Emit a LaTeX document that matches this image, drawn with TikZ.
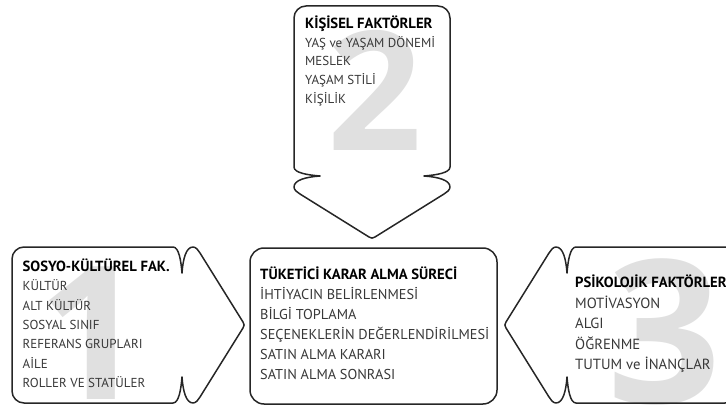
\documentclass[tikz,border=0pt]{standalone}
\usepackage{fontspec}
\setmainfont{PT Sans}
\newfontfamily\numfont{Open Sans}
\usetikzlibrary{positioning}

\newcommand{\boxtitle}[1]{{\fontsize{14.7}{14.7}\selectfont\bfseries\color{black}#1}}

\tikzset{
	boxline/.style={line width=1.5pt, draw=black!85, line join=round},
	factor/.style={anchor=base west, align=left, inner sep=0pt, text=black!78},
	bignum/.style={text=black!12, inner sep=0pt},
	% arrow shaped box, notch at (0,0), pointing to +x
	arrowbox/.pic={
		\draw[boxline] (-170,0) -- (-170,66) arc[start angle=180, end angle=90, radius=12pt] -- (-9,78)
			.. controls (-3,78) and (-1,64) .. (0,52)
			.. controls (1,66) and (4,78) .. (11,78)
			.. controls (14,78) and (16.4,74.6) .. (18,72)
			-- (61,3) .. controls (62.5,1) and (62.5,-1) .. (61,-3)
			-- (18,-72) .. controls (16.4,-74.6) and (14,-78) .. (11,-78)
			.. controls (4,-78) and (1,-66) .. (0,-52)
			.. controls (-1,-64) and (-3,-78) .. (-9,-78)
			-- (-158,-78) arc[start angle=270, end angle=180, radius=12pt] -- cycle;
	}
}

\begin{document}
\begin{tikzpicture}[x=1pt, y=1pt]
	\useasboundingbox (0,0) rectangle (726,408);
	\clip (0,0) rectangle (726,408);
	
	% big numbers in the background
	\node[bignum, font=\fontsize{186}{186}\numfont\bfseries] (num1) at (92,75) {1};
	\node[bignum, font=\fontsize{166}{166}\numfont\bfseries] (num2) at (375,318) {2};
	\node[bignum, font=\fontsize{200}{200}\numfont\bfseries] (num3) at (665,76) {3};
	
	% the boxes
	\pic at (182,83) {arrowbox};
	\pic[rotate=-90] at (372,232) {arrowbox};
	\pic[rotate=180] at (567,83) {arrowbox};
	\draw[boxline, rounded corners=14pt] (250,4) rectangle (497,160);
	
	% texts (base = last line)
	\node[factor, font=\fontsize{13}{19.4}\selectfont] (sosyo) at (22.5,20.3) {%
		\boxtitle{SOSYO-KÜLTÜREL FAK.}\\
		KÜLTÜR\\
		ALT KÜLTÜR\\
		SOSYAL SINIF\\
		REFERANS GRUPLARI\\
		AİLE\\
		ROLLER VE STATÜLER};
	
	\node[factor, font=\fontsize{13}{18.6}\selectfont] (kisisel) at (305,305) {%
		\boxtitle{KİŞİSEL FAKTÖRLER}\\
		YAŞ ve YAŞAM DÖNEMİ\\
		MESLEK\\
		YAŞAM STİLİ\\
		KİŞİLİK};
	
	\node[factor, font=\fontsize{14.3}{20}\selectfont] (surec) at (260,28.4) {%
		\boxtitle{TÜKETİCİ KARAR ALMA SÜRECİ}\\
		İHTİYACIN BELİRLENMESİ\\
		BİLGİ TOPLAMA\\
		SEÇENEKLERİN DEĞERLENDİRİLMESİ\\
		SATIN ALMA KARARI\\
		SATIN ALMA SONRASI};
	
	\node[factor, font=\fontsize{14.7}{20.5}\selectfont] (psiko) at (575,38.4) {%
		\boxtitle{PSİKOLOJİK FAKTÖRLER}\\
		MOTİVASYON\\
		ALGI\\
		ÖĞRENME\\
		TUTUM ve İNANÇLAR};
	
\end{tikzpicture}
\end{document}
